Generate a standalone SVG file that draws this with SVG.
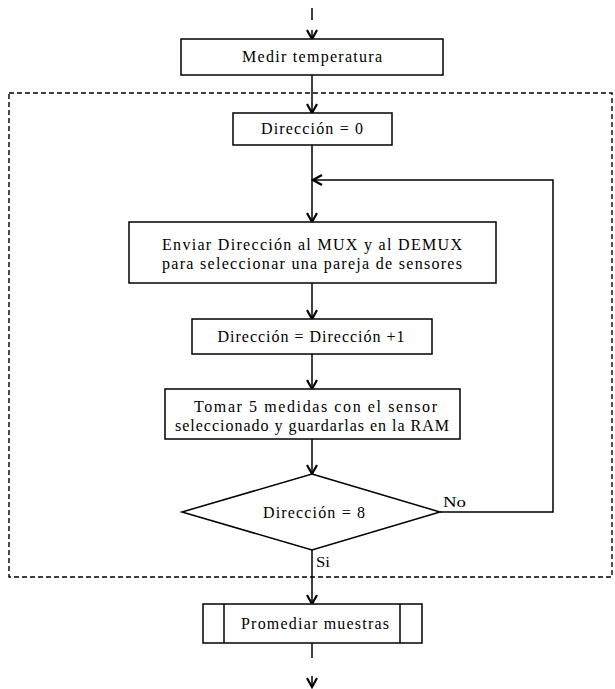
<svg xmlns="http://www.w3.org/2000/svg" width="615" height="689" viewBox="0 0 615 689">
<style>
  .box { fill: #ffffff; stroke: #000000; stroke-width: 1.5; }
  .ln { fill: none; stroke: #000000; stroke-width: 1.5; }
  .dash { fill: none; stroke: #000000; stroke-width: 1.4; stroke-dasharray: 5 3; }
  .t { font-family: 'Liberation Serif', 'Times New Roman', serif; font-size: 16px; fill: #000000; text-anchor: middle; }
  .lbl { text-anchor: start; font-size: 15px; }
</style>
<defs>
  <marker id="arr" viewBox="-11 -7 13 14" refX="0" refY="0" markerWidth="13" markerHeight="14" markerUnits="userSpaceOnUse" orient="auto">
    <path d="M-9,-5 L0,0 L-9,5" fill="none" stroke="#000000" stroke-width="2.2"/>
  </marker>
</defs>
<rect class="dash" x="9" y="93" width="603" height="484"/>
<g id="connectors">
  <line class="ln" x1="312" y1="8" x2="312" y2="20"/>
  <line class="ln" x1="312" y1="30" x2="312" y2="39" marker-end="url(#arr)"/>
  <line class="ln" x1="312" y1="75" x2="312" y2="113" marker-end="url(#arr)"/>
  <line class="ln" x1="312" y1="145" x2="312" y2="222" marker-end="url(#arr)"/>
  <path class="ln" d="M440,512 H553 V180 H313" marker-end="url(#arr)"/>
  <line class="ln" x1="312" y1="283" x2="312" y2="319" marker-end="url(#arr)"/>
  <line class="ln" x1="312" y1="354" x2="312" y2="389" marker-end="url(#arr)"/>
  <line class="ln" x1="312" y1="439" x2="312" y2="474" marker-end="url(#arr)"/>
  <line class="ln" x1="312" y1="550" x2="312" y2="604" marker-end="url(#arr)"/>
  <line class="ln" x1="312" y1="643" x2="312" y2="658"/>
  <line class="ln" x1="312" y1="676" x2="312" y2="687" marker-end="url(#arr)"/>
  <text class="t lbl" x="443" y="507" textLength="23" lengthAdjust="spacingAndGlyphs">No</text>
  <text class="t lbl" x="316" y="567" textLength="14" lengthAdjust="spacingAndGlyphs">Si</text>
</g>
<g id="medir">
  <rect class="box" x="181" y="39" width="262" height="36"/>
  <text class="t" x="312" y="62" textLength="140" lengthAdjust="spacing">Medir temperatura</text>
</g>
<g id="dir0">
  <rect class="box" x="233" y="113" width="159" height="32"/>
  <text class="t" x="312" y="134" textLength="102" lengthAdjust="spacing">Dirección = 0</text>
</g>
<g id="enviar">
  <rect class="box" x="129" y="222" width="367" height="61"/>
  <text class="t" x="312" y="250" textLength="300" lengthAdjust="spacing">Enviar Dirección al MUX y al DEMUX</text>
  <text class="t" x="312" y="269" textLength="300" lengthAdjust="spacing">para seleccionar una pareja de sensores</text>
</g>
<g id="dirinc">
  <rect class="box" x="192" y="319" width="240" height="35"/>
  <text class="t" x="311" y="342" textLength="187" lengthAdjust="spacing">Dirección = Dirección +1</text>
</g>
<g id="tomar">
  <rect class="box" x="165" y="389" width="295" height="50"/>
  <text class="t" x="315.5" y="412" textLength="243" lengthAdjust="spacing">Tomar 5 medidas con el sensor</text>
  <text class="t" x="312" y="431" textLength="274" lengthAdjust="spacing">seleccionado y guardarlas en la RAM</text>
</g>
<g id="decision">
  <polygon class="box" points="312,474 440,512 312,550 182,512"/>
  <text class="t" x="314" y="518" textLength="102" lengthAdjust="spacing">Dirección = 8</text>
</g>
<g id="promediar">
  <rect class="box" x="203" y="604" width="219" height="39"/>
  <line class="ln" x1="224" y1="604" x2="224" y2="643"/>
  <line class="ln" x1="400" y1="604" x2="400" y2="643"/>
  <text class="t" x="315" y="629" textLength="148" lengthAdjust="spacing">Promediar muestras</text>
</g>
</svg>
